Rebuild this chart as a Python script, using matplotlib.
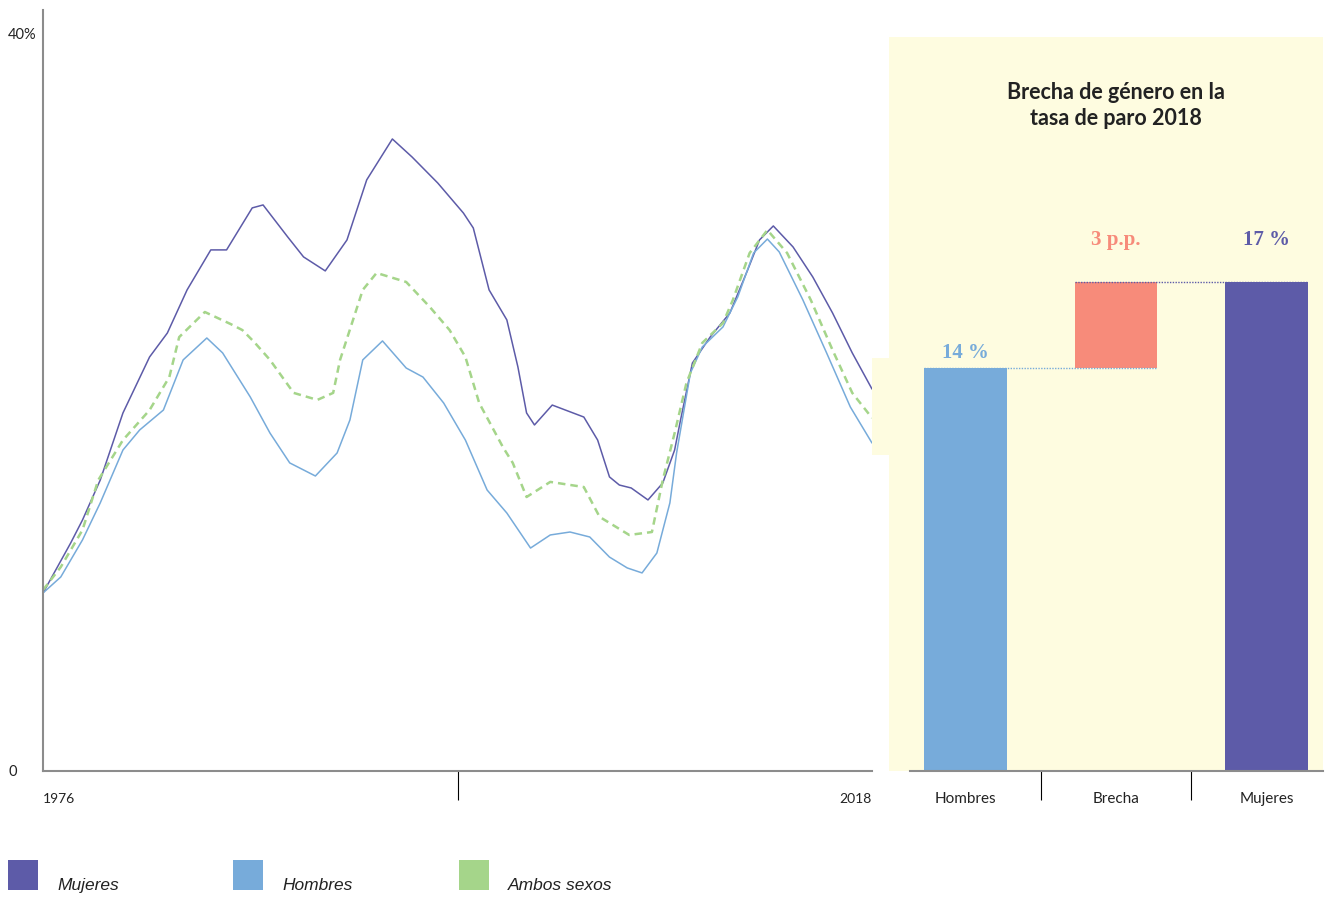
import matplotlib.pyplot as plt
from matplotlib.patches import Rectangle

# Tasa de paro por sexo, 1976-2018 (%)
anios_mujeres = [1976.0, 1977.4, 1978.0, 1978.9, 1980.05, 1981.4, 1982.3, 1983.3, 1984.5, 1985.3,
                 1986.6, 1987.15, 1988.4, 1989.2, 1990.3, 1991.4, 1992.4, 1993.7, 1994.7, 1996.0,
                 1997.3, 1997.8, 1998.6, 1999.5, 2000.06, 2000.5, 2000.9, 2001.8, 2003.4, 2004.1,
                 2004.7, 2005.2, 2005.8, 2006.65, 2007.4, 2008.0, 2008.3, 2008.9, 2009.8, 2010.8,
                 2011.7, 2012.3, 2013.0, 2014.0, 2015.0, 2016.0, 2017.0, 2018.0]
paro_mujeres = [9.66, 12.37, 13.62, 15.79, 19.43, 22.47, 23.77, 26.11, 28.28, 28.28,
                30.56, 30.72, 28.98, 27.90, 27.14, 28.82, 32.08, 34.30, 33.32, 31.91,
                30.28, 29.47, 26.11, 24.48, 21.93, 19.43, 18.78, 19.86, 19.21, 17.96,
                15.96, 15.52, 15.36, 14.71, 15.63, 17.42, 19.05, 22.14, 23.55, 24.86,
                27.19, 28.82, 29.58, 28.44, 26.81, 24.86, 22.69, 20.73]

anios_hombres = [1976.0, 1976.9, 1978.0, 1978.9, 1980.05, 1980.9, 1982.1, 1983.1, 1984.3, 1985.1,
                 1986.5, 1987.5, 1988.5, 1989.8, 1990.9, 1991.55, 1992.2, 1993.2, 1994.4, 1995.25,
                 1996.3, 1997.4, 1998.5, 1999.5, 2000.7, 2001.7, 2002.7, 2003.7, 2004.7, 2005.6,
                 2006.35, 2007.1, 2007.76, 2008.1, 2008.8, 2009.4, 2010.45, 2011.2, 2012.0, 2012.7,
                 2013.3, 2014.5, 2015.7, 2016.9, 2018.0]
paro_hombres = [9.66, 10.53, 12.54, 14.55, 17.42, 18.51, 19.59, 22.31, 23.50, 22.69,
                20.30, 18.34, 16.72, 16.01, 17.26, 19.05, 22.31, 23.34, 21.87, 21.38,
                19.97, 17.96, 15.25, 14.00, 12.10, 12.81, 12.97, 12.70, 11.61, 11.02,
                10.75, 11.83, 14.55, 17.26, 21.60, 23.01, 24.10, 25.73, 28.11, 28.87,
                28.17, 25.56, 22.69, 19.76, 17.80]

anios_ambos = [1976.0, 1976.9, 1978.0, 1978.8, 1980.05, 1981.4, 1982.4, 1982.9, 1984.2, 1985.5,
               1986.1, 1986.7, 1987.5, 1988.7, 1989.9, 1990.7, 1991.05, 1992.2, 1992.9, 1994.4,
               1995.6, 1996.6, 1997.4, 1998.1, 1999.3, 1999.8, 2000.5, 2001.7, 2003.4, 2004.2,
               2005.7, 2006.85, 2007.4, 2008.0, 2008.6, 2009.4, 2010.45, 2010.95, 2011.8, 2012.7,
               2013.7, 2014.9, 2016.0, 2017.0, 2018.0]
paro_ambos = [9.82, 11.07, 13.08, 15.79, 17.96, 19.59, 21.38, 23.55, 24.91, 24.26,
              23.93, 23.28, 22.31, 20.52, 20.14, 20.52, 22.31, 26.11, 27.03, 26.54,
              25.18, 23.93, 22.47, 19.97, 17.58, 16.72, 14.87, 15.69, 15.41, 13.79,
              12.81, 12.97, 15.79, 18.34, 21.06, 23.23, 24.31, 25.56, 28.11, 29.36,
              28.11, 25.56, 22.85, 20.52, 19.16]

# Brecha de género 2018
categorias = ["Hombres", "Brecha", "Mujeres"]
paro_hombres_2018 = 14
paro_mujeres_2018 = 17
brecha_2018 = paro_mujeres_2018 - paro_hombres_2018
etiquetas_barras = ["14 %", "3 p.p.", "17 %"]

MORADO = "#5D5BA8"
AZUL = "#77ABDA"
VERDE = "#A5D58A"
SALMON = "#F78B7A"
AMARILLO = "#FEFCE0"
GRIS = "#8C8C8C"
TEXTO = "#222222"

W, H = 1330, 900
fig = plt.figure(figsize=(W / 100, H / 100), dpi=100)
fig.patch.set_facecolor("white")


def px_rect(x0, y0, x1, y1):
    """Rectangle in figure fraction from pixel corners (y measured from top)."""
    return [x0 / W, (H - y1) / H, (x1 - x0) / W, (y1 - y0) / H]


# yellow panel behind the bar chart
for x0, y0, x1, y1 in [(889, 37, 1323, 771), (872, 358, 889, 455)]:
    l, b, w, h = px_rect(x0, y0, x1, y1)
    fig.patches.append(Rectangle((l, b), w, h, transform=fig.transFigure,
                                 facecolor=AMARILLO, edgecolor="none", zorder=-5))

# --- line chart ---
ax = fig.add_axes(px_rect(43, 10, 872, 771))
ax.set_facecolor("none")
ax.plot(anios_mujeres, paro_mujeres, color=MORADO, lw=1.1, solid_capstyle="round",
        solid_joinstyle="round")
ax.plot(anios_hombres, paro_hombres, color=AZUL, lw=1.1, solid_capstyle="round",
        solid_joinstyle="round")
ax.plot(anios_ambos, paro_ambos, color=VERDE, lw=1.8, dashes=(3, 2))
ax.set_xlim(1976, 2018)
ax.set_ylim(0, 41.3)

for side in ["top", "right"]:
    ax.spines[side].set_visible(False)
for side in ["left", "bottom"]:
    ax.spines[side].set_color(GRIS)
    ax.spines[side].set_linewidth(1.5)

ax.set_yticks([0, 40])
ax.set_yticklabels(["0", "40%"], fontfamily="Lato", fontsize=10.5, color=TEXTO)
ax.tick_params(axis="y", length=0, pad=25)
for lbl in ax.get_yticklabels():
    lbl.set_horizontalalignment("left")

ax.set_xticks([1976, 1997, 2018])
ax.set_xticklabels(["1976", "", "2018"], fontfamily="Lato", fontsize=10, color=TEXTO)
ax.tick_params(axis="x", length=21, width=0.8, color="black", pad=-5)
xticks = ax.xaxis.get_major_ticks()
xticks[0].tick1line.set_markersize(0)
xticks[2].tick1line.set_markersize(0)
xticks[0].label1.set_horizontalalignment("left")
xticks[2].label1.set_horizontalalignment("right")

# --- gender gap bars ---
bx = fig.add_axes(px_rect(910, 37, 1323, 771))
bx.set_facecolor("none")
ancho = 0.55
bx.bar(0, paro_hombres_2018, width=ancho, color=AZUL)
bx.bar(1, brecha_2018, bottom=paro_hombres_2018, width=ancho, color=SALMON)
bx.bar(2, paro_mujeres_2018, width=ancho, color=MORADO)
bx.hlines(paro_hombres_2018, -ancho / 2, 1 + ancho / 2, colors=AZUL, lw=1, linestyles=(0, (1, 1)))
bx.hlines(paro_mujeres_2018, 1 - ancho / 2, 2 + ancho / 2, colors=MORADO, lw=1, linestyles=(0, (1, 1)))
bx.set_xlim(-0.3675, 2.374)
bx.set_ylim(0, 25.5)

tops = [paro_hombres_2018, paro_mujeres_2018, paro_mujeres_2018]
colores = [AZUL, SALMON, MORADO]
desplaz = [11, 30, 30]
for i, (top, txt, c, dy) in enumerate(zip(tops, etiquetas_barras, colores, desplaz)):
    bx.annotate(txt, (i, top), xytext=(0, dy), textcoords="offset points",
                ha="center", va="center", color=c, fontsize=15,
                fontfamily="Liberation Serif", fontweight="bold")

bx.text(1.0, 0.907, "Brecha de género en la\ntasa de paro 2018", transform=bx.get_xaxis_transform(),
        ha="center", va="center", fontfamily="Lato", fontweight="bold", fontsize=15.5,
        color=TEXTO, linespacing=1.3)

for side in ["top", "right", "left"]:
    bx.spines[side].set_visible(False)
bx.spines["bottom"].set_color(GRIS)
bx.spines["bottom"].set_linewidth(1.5)
bx.set_yticks([])
bx.set_xticks(range(len(categorias)))
bx.set_xticklabels(categorias, fontfamily="Lato", fontsize=11, color=TEXTO)
bx.tick_params(axis="x", which="major", length=0, pad=15)
bx.set_xticks([0.5, 1.5], minor=True)
bx.tick_params(axis="x", which="minor", length=21, width=0.8, color="black")

# --- legend ---
leyenda = [("Mujeres", MORADO, 8), ("Hombres", AZUL, 233), ("Ambos sexos", VERDE, 459)]
for nombre, color, x0 in leyenda:
    l, b, w, h = px_rect(x0, 860, x0 + 30, 890)
    fig.patches.append(Rectangle((l, b), w, h, transform=fig.transFigure,
                                 facecolor=color, edgecolor="none"))
    fig.text((x0 + 49) / W, (H - 890) / H, nombre, fontfamily="Liberation Sans",
             style="italic", fontsize=12.5, color=TEXTO, va="baseline")

fig.savefig("out.png", dpi=100, facecolor="white")
